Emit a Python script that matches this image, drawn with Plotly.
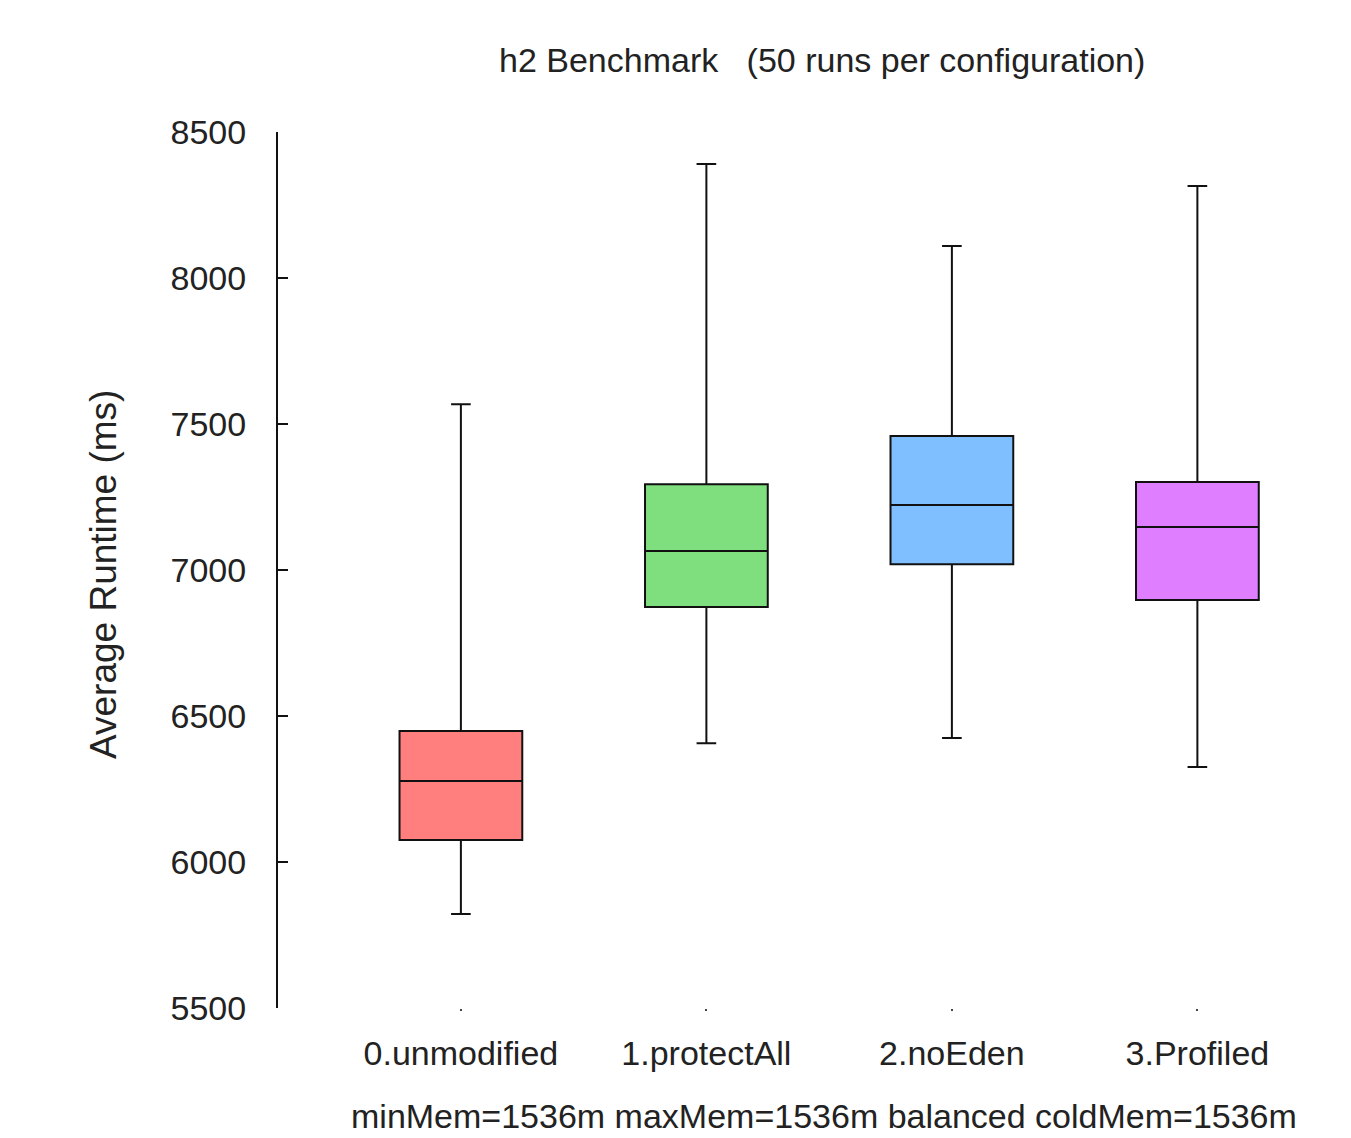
import plotly.graph_objects as go

categories = ["0.unmodified", "1.protectAll", "2.noEden", "3.Profiled"]
lower_whisker = [5822, 6407, 6425, 6325]
q1 = [6075, 6873, 7020, 6897]
median = [6277, 7065, 7223, 7147]
q3 = [6449, 7294, 7459, 7301]
upper_whisker = [7568, 8390, 8110, 8315]
colors = ["#FF7F7F", "#7FDF7F", "#7FBFFF", "#DF7FFF"]
y_ticks = [5500, 6000, 6500, 7000, 7500, 8000, 8500]

FONT = "Liberation Sans"
TXT = "#222222"
FS = 34

# page has an 8px body offset; plot area target: x 277..1340, y 132..1008 on screen
L, T = 270, 124
PW, PH = 1063, 876
W, H = 1343, 1130

fig = go.Figure()
for i, cat in enumerate(categories):
    fig.add_trace(go.Box(
        x=[i],
        q1=[q1[i]], median=[median[i]], q3=[q3[i]],
        lowerfence=[lower_whisker[i]], upperfence=[upper_whisker[i]],
        name=cat,
        fillcolor=colors[i],
        line=dict(color="#111111", width=2),
        width=0.5,
        whiskerwidth=0.16,
        boxpoints=False,
        showlegend=False,
        hoverinfo="skip",
    ))

fig.update_layout(
    width=W, height=H,
    margin=dict(l=L, r=W - L - PW, t=T, b=H - T - PH),
    paper_bgcolor="white", plot_bgcolor="white",
    font=dict(family=FONT, size=FS, color=TXT),
    xaxis=dict(
        range=[-0.745, 3.585],
        tickvals=list(range(len(categories))),
        ticktext=categories,
        showgrid=False, zeroline=False, showline=False,
        ticks="outside", ticklen=2, tickwidth=2, tickcolor="#444",
        ticklabelstandoff=13,
        tickfont=dict(family=FONT, size=FS, color=TXT),
    ),
    yaxis=dict(
        range=[5500, 8500],
        tickvals=y_ticks,
        showgrid=False, zeroline=False,
        showline=True, linecolor="#111111", linewidth=2,
        ticks="inside", ticklen=10, tickwidth=2, tickcolor="#111111",
        ticklabelstandoff=23,
        tickfont=dict(family=FONT, size=FS, color=TXT),
    ),
    annotations=[
        dict(text="h2 Benchmark   (50 runs per configuration)", xref="paper", yref="paper",
             x=(821 - 277) / PW, y=1 + (132 - 60) / PH, xanchor="center", yanchor="middle",
             showarrow=False, font=dict(family=FONT, size=FS, color=TXT)),
        dict(text="minMem=1536m maxMem=1536m balanced coldMem=1536m", xref="paper", yref="paper",
             x=(823 - 277) / PW, y=-(1116 - 1008) / PH, xanchor="center", yanchor="middle",
             showarrow=False, font=dict(family=FONT, size=FS, color=TXT)),
        dict(text="Average Runtime (ms)", xref="paper", yref="paper",
             x=-(277 - 102) / PW, y=(1008 - 575) / PH, xanchor="center", yanchor="middle",
             textangle=-90, showarrow=False, font=dict(family=FONT, size=37, color=TXT)),
    ],
)

fig.write_html("out.html")
